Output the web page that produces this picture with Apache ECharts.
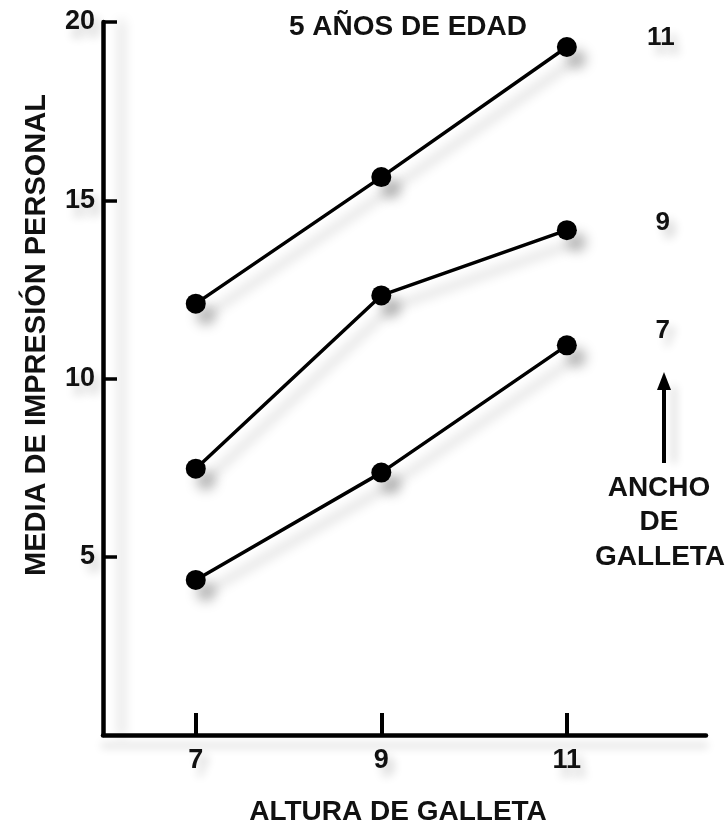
<!DOCTYPE html>
<html>
<head>
<meta charset="utf-8">
<script src="https://cdn.jsdelivr.net/npm/echarts@6/dist/echarts.min.js"></script>
<style>
html,body{margin:0;padding:0;background:#fff;}
#chart{width:728px;height:827px;}
</style>
</head>
<body>
<div id="chart"></div>
<script>
// Data
const alturas = [7, 9, 11];                 // ALTURA DE GALLETA (x)
const anchos = ['11', '9', '7'];            // ANCHO DE GALLETA (series)
const ancho11 = [12.1, 15.65, 19.3];
const ancho9 = [7.47, 12.33, 14.16];
const ancho7 = [4.35, 7.36, 10.93];
const xTicks = [7, 9, 11];
const yTicks = [5, 10, 15, 20];
const labelOffsets = [[94, -9], [96, -7], [96, -15]];

const FONT = "'Liberation Sans', Arial, sans-serif";
const seriesValues = [ancho11, ancho9, ancho7];

const chart = echarts.init(document.getElementById('chart'), null, {renderer: 'canvas'});

const shadow = {shadowColor: 'rgba(0,0,0,0.25)', shadowBlur: 12, shadowOffsetX: 10, shadowOffsetY: 12};
const textShadow = {textShadowColor: 'rgba(0,0,0,0.2)', textShadowBlur: 10, textShadowOffsetX: 6, textShadowOffsetY: 8};

const series = anchos.map((name, i) => ({
  name: name,
  type: 'line',
  data: alturas.map((x, j) => [x, seriesValues[i][j]]),
  symbol: 'circle',
  symbolSize: 20,
  lineStyle: Object.assign({color: '#000', width: 3.5}, shadow),
  itemStyle: Object.assign({color: '#000'}, shadow),
  endLabel: Object.assign({
    show: true,
    formatter: '{a}',
    color: '#111',
    fontFamily: FONT,
    fontWeight: 'bold',
    fontSize: 26,
    align: 'center',
    verticalAlign: 'middle',
    distance: 0,
    offset: labelOffsets[i]
  }, textShadow),
  silent: true,
  animation: false
}));

const option = {
  animation: false,
  backgroundColor: '#fff',
  grid: {left: 103, right: 22, top: 22, bottom: 92},
  xAxis: {
    type: 'value',
    min: 6,
    max: 12.5,
    axisLine: {show: true, onZero: false, lineStyle: {color: '#000', width: 4.5, shadowColor: 'rgba(0,0,0,0.15)', shadowBlur: 8, shadowOffsetY: 10}},
    axisTick: {show: true, inside: true, length: 22, customValues: xTicks, lineStyle: {color: '#000', width: 4}},
    axisLabel: Object.assign({customValues: xTicks, margin: 12, color: '#111', fontFamily: FONT, fontWeight: 'bold', fontSize: 27}, textShadow),
    splitLine: {show: false}
  },
  yAxis: {
    type: 'value',
    min: 0,
    max: 20,
    interval: 5,
    axisLine: {show: true, lineStyle: {color: '#000', width: 4.5, shadowColor: 'rgba(0,0,0,0.18)', shadowBlur: 12, shadowOffsetX: 18}},
    axisTick: {show: true, inside: true, length: 14, customValues: yTicks, lineStyle: {color: '#000', width: 3.5}},
    axisLabel: Object.assign({customValues: yTicks, margin: 8, color: '#111', fontFamily: FONT, fontWeight: 'bold', fontSize: 27}, textShadow),
    splitLine: {show: false}
  },
  graphic: [
    {type: 'text', x: 408, y: 27, style: {text: '5 AÑOS DE EDAD', fill: '#111', font: 'bold 28px ' + FONT, textAlign: 'center', textVerticalAlign: 'middle', shadowColor: 'rgba(0,0,0,0.18)', shadowBlur: 10, shadowOffsetY: 12}},
    {type: 'text', x: 37, y: 335, rotation: Math.PI / 2, style: {text: 'MEDIA DE IMPRESIÓN PERSONAL', fill: '#111', font: 'bold 29px ' + FONT, textAlign: 'center', textVerticalAlign: 'middle', shadowColor: 'rgba(0,0,0,0.18)', shadowBlur: 10, shadowOffsetX: 4}},
    {type: 'text', x: 398, y: 812, style: {text: 'ALTURA DE GALLETA', fill: '#111', font: 'bold 28px ' + FONT, textAlign: 'center', textVerticalAlign: 'middle'}},
    {type: 'line', shape: {x1: 664, y1: 386, x2: 664, y2: 463}, style: {stroke: '#000', lineWidth: 4, shadowColor: 'rgba(0,0,0,0.18)', shadowBlur: 8, shadowOffsetX: 10}},
    {type: 'polygon', shape: {points: [[657, 390], [671, 390], [664, 372]]}, style: {fill: '#000'}},
    {type: 'text', x: 659, y: 488, style: {text: 'ANCHO', fill: '#111', font: 'bold 28px ' + FONT, textAlign: 'center', textVerticalAlign: 'middle'}},
    {type: 'text', x: 659, y: 522, style: {text: 'DE', fill: '#111', font: 'bold 28px ' + FONT, textAlign: 'center', textVerticalAlign: 'middle'}},
    {type: 'text', x: 660, y: 557, style: {text: 'GALLETA', fill: '#111', font: 'bold 28px ' + FONT, textAlign: 'center', textVerticalAlign: 'middle', shadowColor: 'rgba(0,0,0,0.18)', shadowBlur: 10, shadowOffsetY: 14}}
  ],
  series: series
};

chart.setOption(option);
</script>
</body>
</html>
